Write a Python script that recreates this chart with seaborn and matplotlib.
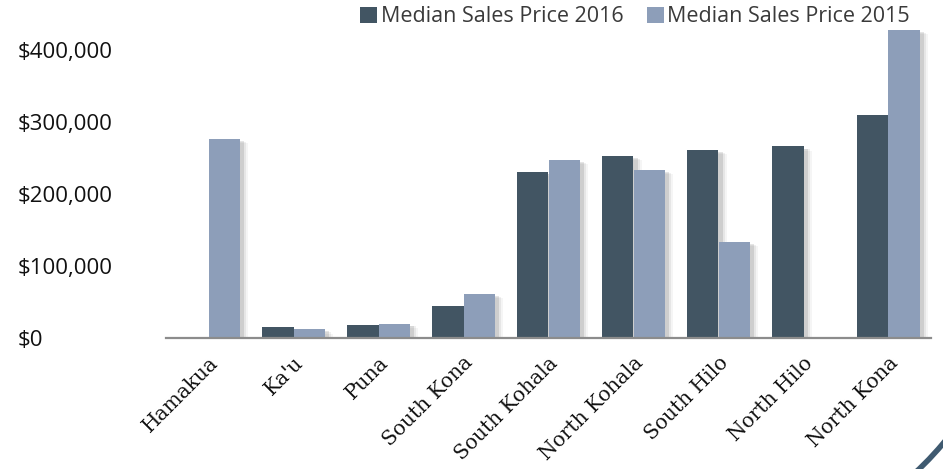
import numpy as np
import pandas as pd
import matplotlib
matplotlib.use("Agg")
import matplotlib.pyplot as plt
import matplotlib.patheffects as pe
from matplotlib.patches import Patch, Arc
from matplotlib.transforms import IdentityTransform
import seaborn as sns

categories = ["Hamakua", "Ka'u", "Puna", "South Kona", "South Kohala",
              "North Kohala", "South Hilo", "North Hilo", "North Kona"]
price_2016 = [np.nan, 15000, 18000, 44000, 231000, 253000, 261000, 266000, 310000]
price_2015 = [276000, 12000, 20000, 61000, 247000, 233000, 133000, np.nan, 428000]
series_names = ["Median Sales Price 2016", "Median Sales Price 2015"]
ytick_values = [0, 100000, 200000, 300000, 400000]
ytick_labels = ["$0", "$100,000", "$200,000", "$300,000", "$400,000"]

colors = ["#425563", "#8d9eb9"]

df = pd.DataFrame({
    "area": categories * 2,
    "series": [series_names[0]] * len(categories) + [series_names[1]] * len(categories),
    "value": price_2016 + price_2015,
})

sns.set_theme(style="white")
plt.rcParams['font.family'] = ['Open Sans', 'DejaVu Sans']

fig = plt.figure(figsize=(9.43, 4.69), dpi=100)
ax = fig.add_axes([166 / 943, (469 - 338) / 469, 765 / 943, 324 / 469])

sns.barplot(data=df, x="area", y="value", hue="series", hue_order=series_names,
            order=categories, palette=colors, width=0.73, errorbar=None,
            saturation=1, ax=ax, legend=False, linewidth=0)

shadow = [pe.SimplePatchShadow(offset=(6, -3), shadow_rgbFace="#000000", alpha=0.04),
          pe.SimplePatchShadow(offset=(5, -2), shadow_rgbFace="#000000", alpha=0.06),
          pe.SimplePatchShadow(offset=(3.5, -1.5), shadow_rgbFace="#000000", alpha=0.10),
          pe.Normal()]
for p in ax.patches:
    p.set_path_effects(shadow)

ax.set_ylim(0, 450000)
ax.set_xlim(-0.5, len(categories) - 0.5)
ax.set_yticks(ytick_values)
ax.set_yticklabels(ytick_labels, fontsize=16, color="#111111")
for lbl in ax.get_yticklabels():
    lbl.set_horizontalalignment("left")
ax.tick_params(axis="y", length=0, pad=(166 - 18) * 0.72)
ax.tick_params(axis="x", length=0, pad=11)
ax.set_xticks(range(len(categories)))
ax.set_xticklabels(categories, rotation=45, ha="right", rotation_mode="anchor",
                   family="DejaVu Serif", fontsize=14.5, color="#111111")
ax.set_xlabel("")
ax.set_ylabel("")
for s in ["top", "right", "left"]:
    ax.spines[s].set_visible(False)
ax.spines["bottom"].set_color("#8c8c8c")
ax.spines["bottom"].set_linewidth(1.6)
ax.grid(False)

handles = [Patch(facecolor=c, edgecolor="none") for c in colors]
fig.legend(handles, series_names, loc="center", bbox_to_anchor=(635 / 943, 1 - 17 / 469),
           ncol=2, frameon=False, handlelength=0.8, handleheight=0.8,
           handletextpad=0.15, columnspacing=1.1, labelcolor="#3a3a3a",
           prop={"family": ["Open Sans", "DejaVu Sans"], "size": 15.5})

arc = Arc((700, 229), 634, 634, theta1=-50, theta2=-30, transform=IdentityTransform(),
          color="#3f5a70", linewidth=4)
fig.add_artist(arc)

fig.savefig("out.png", dpi=100)
